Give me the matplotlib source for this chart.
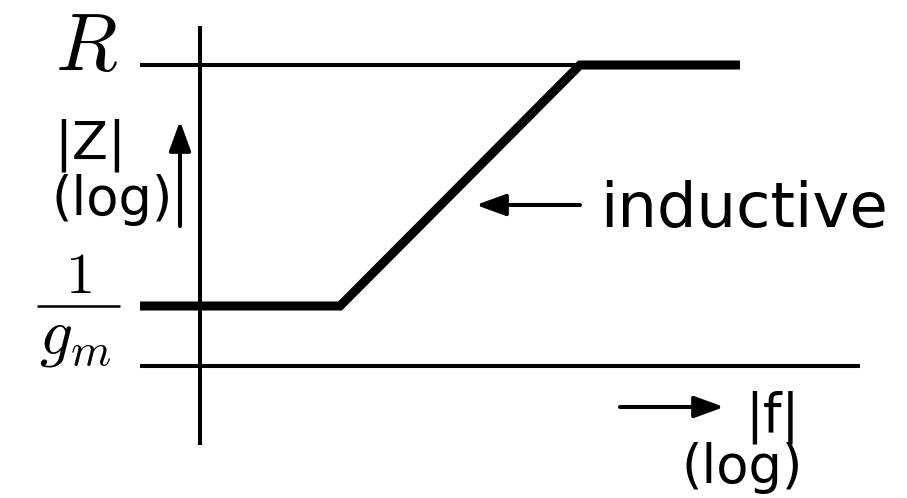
import matplotlib
matplotlib.use('Agg')
import matplotlib.pyplot as plt

plt.rcParams['mathtext.fontset'] = 'cm'
plt.rcParams['font.family'] = 'DejaVu Sans'

# asymptotic |Z| curve (canvas units, y grows downward)
curve_x = [140, 340, 580, 740]
curve_y = [306, 306, 65, 65]

# reference levels: R and 1/gm
level_R = 65
level_gm = 306
level_f_axis = 366
z_axis_x = 200

fig = plt.figure(figsize=(9.07, 4.98), dpi=100)
ax = fig.add_axes([0, 0, 1, 1])
ax.set_xlim(0, 907)
ax.set_ylim(498, 0)
ax.axis('off')

# axes
ax.plot([z_axis_x, z_axis_x], [26, 445], c='black', lw=2.9, solid_capstyle='butt')
ax.plot([140, 860], [level_f_axis, level_f_axis], c='black', lw=2.9, solid_capstyle='butt')
ax.plot([140, 580], [level_R, level_R], c='black', lw=2.9, solid_capstyle='butt')

# impedance magnitude
ax.plot(curve_x, curve_y, c='black', lw=6.5, solid_capstyle='butt', solid_joinstyle='miter')

# level labels
ax.text(118, 70, r'$R$', fontsize=58, ha='right', va='baseline')
ax.text(78, 293, r'$1$', fontsize=42, ha='center', va='baseline')
ax.plot([37, 120], [level_gm, level_gm], c='black', lw=1.8, solid_capstyle='butt')
ax.text(75, 353, r'$g_m$', fontsize=47, ha='center', va='baseline')

# axis names
ax.text(54, 159, '|Z|', fontsize=38, ha='left', va='baseline')
ax.text(52, 215, '(log)', fontsize=38, ha='left', va='baseline')
ax.text(745, 431, '|f|', fontsize=38, ha='left', va='baseline')
ax.text(682, 483, '(log)', fontsize=38, ha='left', va='baseline')
ax.text(600, 227, 'inductive', fontsize=45, ha='left', va='baseline')

arrow = dict(arrowstyle='-|>,head_length=0.9,head_width=0.33', color='black', lw=2.9,
             mutation_scale=20, shrinkA=0, shrinkB=0)
ax.annotate('', xy=(180, 121), xytext=(180, 226), arrowprops=arrow)
ax.annotate('', xy=(476, 205), xytext=(580, 205), arrowprops=arrow)
ax.annotate('', xy=(724, 407), xytext=(620, 407), arrowprops=arrow)

plt.savefig('out.png', dpi=100)
